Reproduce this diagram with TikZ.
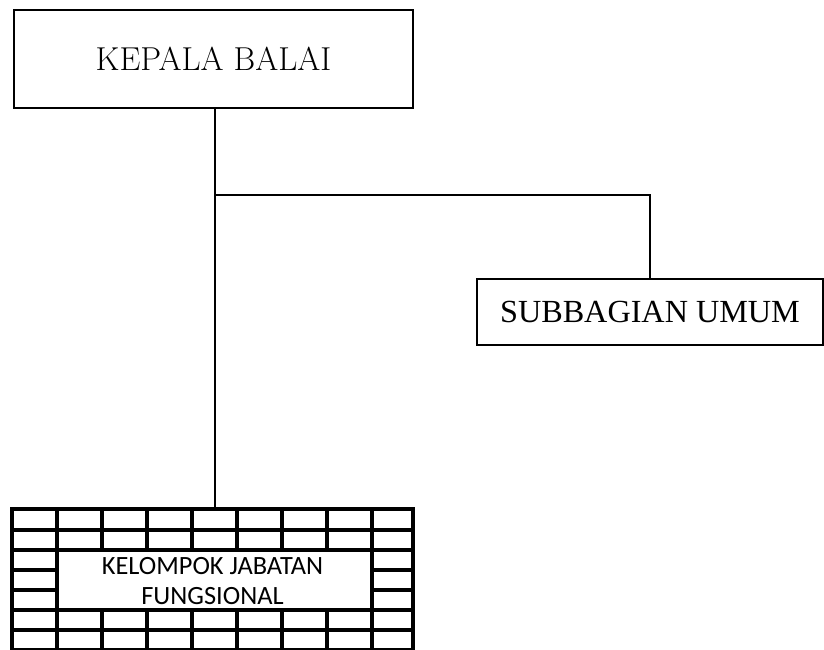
\documentclass[tikz,border=0pt]{standalone}
\usepackage{fontspec}
\newfontfamily\timesfont{Liberation Serif}
\newfontfamily\calibrifont{Carlito}
\usetikzlibrary{positioning}

\tikzset{
  unitbox/.style={draw, line width=0.7mm, inner sep=0pt},
  link/.style={line width=0.45mm},
  brick/.style={line width=1.05mm, line cap=rect}
}

\begin{document}
\begin{tikzpicture}[x=0.3mm, y=-0.3mm]
  \useasboundingbox (0,0) rectangle (824,650);
  \node[unitbox, minimum width=119.7mm, minimum height=29.4mm,
        font=\fontsize{28.3}{34}\selectfont] (kepala) at (213.5,59) {KEPALA BALAI};
  \node[unitbox, minimum width=103.8mm, minimum height=19.8mm,
        font=\timesfont\fontsize{27.5}{33}\selectfont] (subbag) at (650,312) {SUBBAGIAN UMUM};
  \node[minimum width=120.3mm, minimum height=42.3mm, align=center,
        font=\calibrifont\fontsize{22.5}{25.5}\selectfont] (kjf) at (212.5,581)
        {KELOMPOK JABATAN\\ FUNGSIONAL};
  \coordinate (fork) at (215,195);
  \draw[link] (kepala.south -| fork) -- (kjf.north -| fork);
  \draw[link] (fork) -| (subbag.north);
  % bricks round the text
  \foreach \y in {509,530,550,610,630,650}
    \draw[brick] (12,\y) -- (413,\y);
  \foreach \y in {570,590} {
    \draw[brick] (12,\y) -- (57,\y);
    \draw[brick] (372,\y) -- (413,\y);
  }
  \foreach \x in {12,57,372,413}
    \draw[brick] (\x,509) -- (\x,650);
  \foreach \x in {102,147,...,327} {
    \draw[brick] (\x,509) -- (\x,550);
    \draw[brick] (\x,610) -- (\x,650);
  }
\end{tikzpicture}
\end{document}
